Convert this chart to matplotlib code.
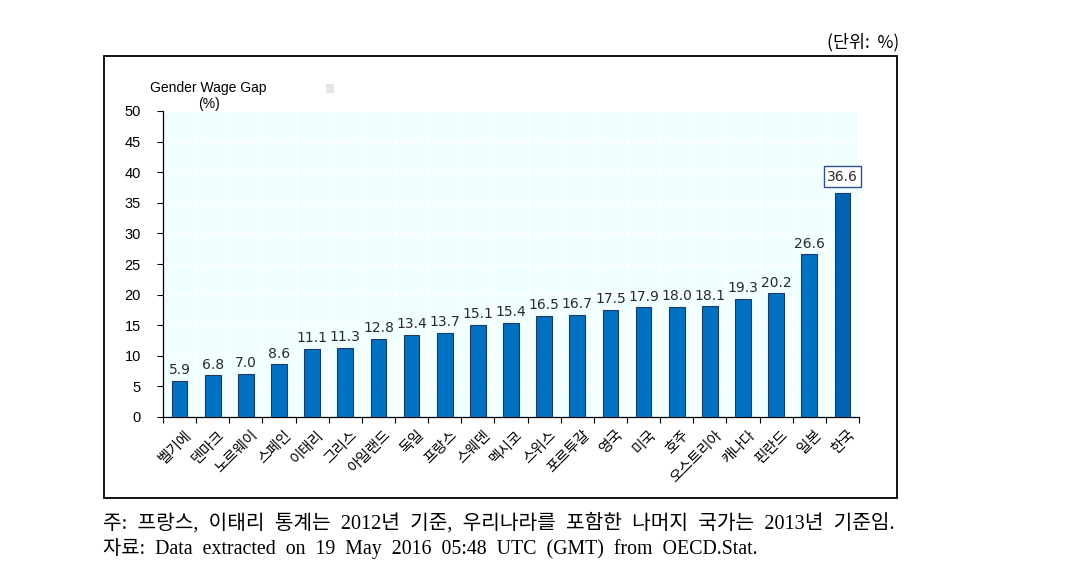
import matplotlib.pyplot as plt
from matplotlib.patches import Rectangle

# 데이터
countries = ['벨기에', '덴마크', '노르웨이', '스페인', '이태리', '그리스', '아일랜드', '독일',
             '프랑스', '스웨덴', '멕시코', '스위스', '포르투갈', '영국', '미국', '호주',
             '오스트리아', '캐나다', '핀란드', '일본', '한국']
gap = [5.9, 6.8, 7.0, 8.6, 11.1, 11.3, 12.8, 13.4, 13.7, 15.1, 15.4, 16.5, 16.7,
       17.5, 17.9, 18.0, 18.1, 19.3, 20.2, 26.6, 36.6]
yticks = [0, 5, 10, 15, 20, 25, 30, 35, 40, 45, 50]

W, H = 1070, 577
sans = ['Liberation Sans', 'Noto Sans CJK KR']
verd = ['DejaVu Sans']
kr = ['Noto Sans CJK KR', 'DejaVu Sans']
serif = ['Liberation Serif', 'Noto Sans CJK KR']

fig = plt.figure(figsize=(W / 100, H / 100), dpi=100)

# 바깥 테두리
fig.patches.append(Rectangle((104 / W, 1 - 498 / H), (897 - 104) / W, (498 - 56) / H,
                             transform=fig.transFigure, fill=False, edgecolor='black', lw=1.3))

# 플롯 영역 (픽셀 좌표 기준)
left, right, top, bottom = 163, 859, 111, 417
ax = fig.add_axes([left / W, 1 - bottom / H, (right - left) / W, (bottom - top) / H])
ax.set_facecolor('#F0FEFE')

n = len(countries)
x = list(range(n))
colors = ['#0070C0'] * (n - 1) + ['#0062B2']
ax.bar(x, gap, width=0.47, color=colors, edgecolor='#1F3864', linewidth=0.8, zorder=3)

# 값 레이블
for i, v in enumerate(gap):
    if i == n - 1:
        ax.text(i, v + 1.5, f'{v:.1f}', ha='center', va='bottom', fontsize=10,
                family=verd, color='#2A2A2A',
                bbox=dict(boxstyle='square,pad=0.25', fc='white', ec='#2F4F8F', lw=1))
    else:
        ax.text(i, v + 0.6, f'{v:.1f}', ha='center', va='bottom', fontsize=10,
                family=verd, color='#2A2A2A')

ax.set_xlim(-0.5, n - 0.5)
ax.set_ylim(0, 50)
ax.set_yticks(yticks)
ax.set_yticklabels([str(t) for t in yticks], family=sans, fontsize=10.5)

# 격자 (흰색)
for b in range(1, n):
    ax.axvline(b - 0.5, color='white', lw=1, zorder=1)
for t in yticks[1:]:
    ax.axhline(t, color='white', lw=1, zorder=1)

ax.set_xticks([b - 0.5 for b in range(n + 1)])
ax.set_xticklabels([''] * (n + 1))
ax.tick_params(axis='x', direction='out', length=4, width=0.8)
ax.tick_params(axis='y', direction='out', length=4, width=0.8, pad=12)
for i, name in enumerate(countries):
    ax.text(i + 0.15, -1.8, name, rotation=45, ha='right', va='top', fontsize=10.5,
            family=kr, rotation_mode='anchor')

for s in ['top', 'right']:
    ax.spines[s].set_visible(False)
ax.spines['left'].set_linewidth(0.9)
ax.spines['bottom'].set_linewidth(0.9)

# 제목/단위
fig.text(150 / W, 1 - 88 / H, 'Gender Wage Gap', family=sans, fontsize=10, va='center', ha='left')
fig.text(209 / W, 1 - 104 / H, '(%)', family=sans, fontsize=10, va='center', ha='center')
fig.patches.append(Rectangle((326 / W, 1 - 93 / H), 8 / W, 9 / H, transform=fig.transFigure,
                             color='#E6E6E6', lw=0))
fig.text(899 / W, 1 - 42 / H, '(단위:  %)', family=kr, fontsize=12.5, va='center', ha='right')

# 주석
fig.text(103 / W, 1 - 523 / H,
         '주:  프랑스,  이태리  통계는  2012년  기준,  우리나라를  포함한  나머지  국가는  2013년  기준임.',
         family=serif, fontsize=14.6, va='center', ha='left')
fig.text(103 / W, 1 - 549 / H,
         '자료:  Data  extracted  on  19  May  2016  05:48  UTC  (GMT)  from  OECD.Stat.',
         family=serif, fontsize=14.3, va='center', ha='left')

fig.savefig('out.png', dpi=100)
